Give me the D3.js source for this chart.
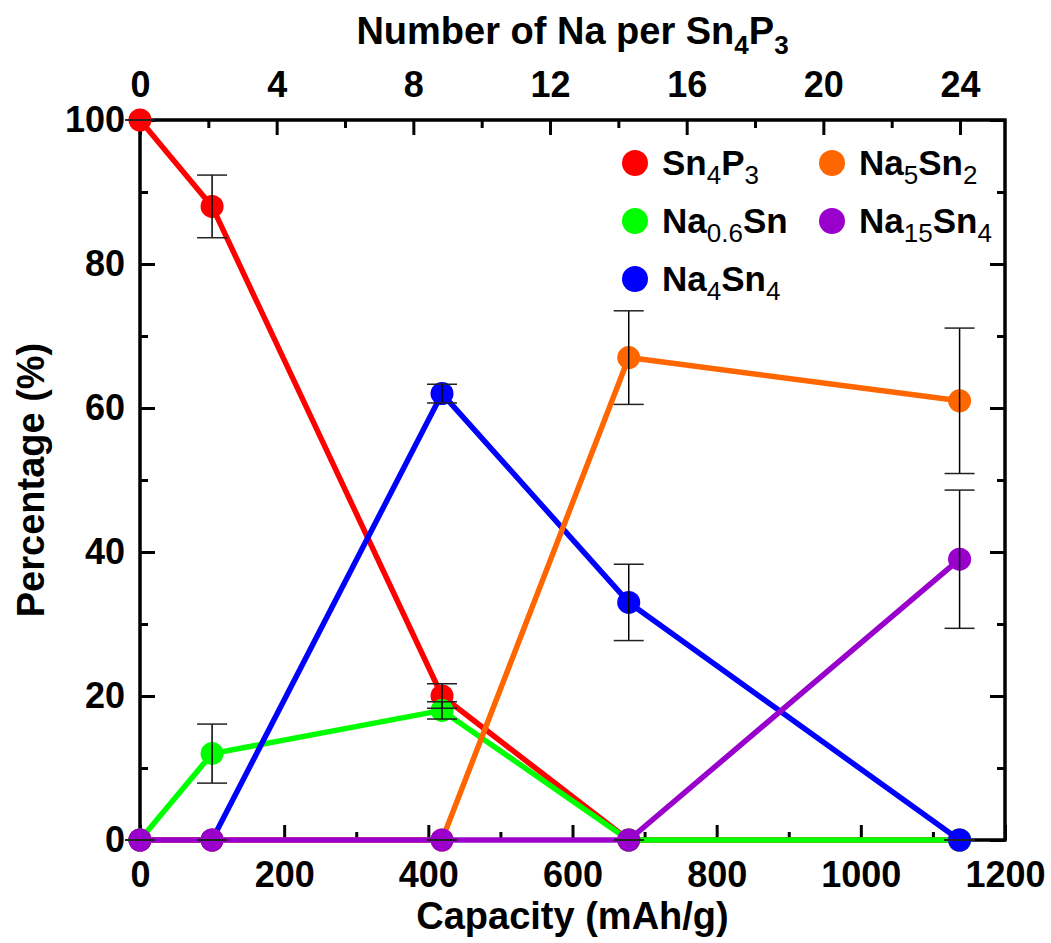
<!DOCTYPE html>
<html>
<head>
<meta charset="utf-8">
<script src="https://cdn.jsdelivr.net/npm/d3@7"></script>
<style>
  html, body { margin: 0; padding: 0; background: #fff; }
  svg { display: block; }
  text { font-family: "Liberation Sans", Arial, sans-serif; }
</style>
</head>
<body>
<svg id="chart" width="1051" height="943"></svg>
<script>
// Capacity (mAh/g) at each sampled point
const capacity = [0, 100, 419, 678, 1137];

// Phase fractions (%) and their uncertainties
const sn4p3      = [100, 88, 20, 0, 0];
const sn4p3Err   = [0, 4.35, 1.7, 0, 0];
const na06sn     = [0, 12, 18, 0, 0];
const na06snErr  = [0, 4.1, 1.2, 0, 0];
const na4sn4     = [0, 0, 62, 33, 0];
const na4sn4Err  = [0, 0, 1.3, 5.3, 0];
const na5sn2     = [0, 0, 0, 67, 61];
const na5sn2Err  = [0, 0, 0, 6.5, 10.1];
const na15sn4    = [0, 0, 0, 0, 39];
const na15sn4Err = [0, 0, 0, 0, 9.6];

// Series names as [text, isSubscript] runs
const seriesNames = [
  [["Sn", 0], ["4", 1], ["P", 0], ["3", 1]],
  [["Na", 0], ["0.6", 1], ["Sn", 0]],
  [["Na", 0], ["4", 1], ["Sn", 0], ["4", 1]],
  [["Na", 0], ["5", 1], ["Sn", 0], ["2", 1]],
  [["Na", 0], ["15", 1], ["Sn", 0], ["4", 1]]
];
const seriesColors = ["#ff0000", "#00ff00", "#0000ff", "#ff6600", "#9900cc"];

// Axis ticks
const capMajor = [0, 200, 400, 600, 800, 1000, 1200];
const capMinor = [100, 300, 500, 700, 900, 1100];
const pctMajor = [0, 20, 40, 60, 80, 100];
const pctMinor = [10, 30, 50, 70, 90];
const naMajor = [0, 4, 8, 12, 16, 20, 24];
const naMinor = [2, 6, 10, 14, 18, 22];
const mAhPerNa = 47.4; // capacity of one Na per Sn4P3 formula unit

const series = [
  { vals: sn4p3, err: sn4p3Err },
  { vals: na06sn, err: na06snErr },
  { vals: na4sn4, err: na4sn4Err },
  { vals: na5sn2, err: na5sn2Err },
  { vals: na15sn4, err: na15sn4Err }
].map((s, i) => ({ ...s, name: seriesNames[i], color: seriesColors[i] }));

const svg = d3.select("#chart");
const L = 140, R = 1005, T = 120, B = 840;

const x = d3.scaleLinear().domain([0, 1200]).range([L, R]);
const xTop = d3.scaleLinear().domain([0, 1200 / mAhPerNa]).range([L, R]);
const y = d3.scaleLinear().domain([0, 100]).range([B, T]);

const tickFont = 36;

function styleAxis(g) {
  g.select(".domain").remove();
  g.selectAll(".tick line").attr("stroke", "#000").attr("stroke-width", 3);
  g.selectAll(".tick text")
    .attr("fill", "#000")
    .attr("font-size", tickFont)
    .attr("font-weight", "bold")
    .attr("font-family", "'Liberation Sans', Arial, sans-serif");
}

// Bottom axis
svg.append("g").attr("transform", `translate(0,${B})`)
  .call(d3.axisBottom(x).tickValues(capMinor).tickSize(-8).tickFormat(""))
  .call(styleAxis);
svg.append("g").attr("transform", `translate(0,${B})`)
  .call(d3.axisBottom(x).tickValues(capMajor).tickSize(-15).tickPadding(21).tickFormat(d3.format("d")))
  .call(styleAxis);

// Top axis
svg.append("g").attr("transform", `translate(0,${T})`)
  .call(d3.axisTop(xTop).tickValues(naMinor).tickSize(-8).tickFormat(""))
  .call(styleAxis);
svg.append("g").attr("transform", `translate(0,${T})`)
  .call(d3.axisTop(xTop).tickValues(naMajor).tickSize(-15).tickPadding(23).tickFormat(d3.format("d")))
  .call(styleAxis);

// Left axis
svg.append("g").attr("transform", `translate(${L},0)`)
  .call(d3.axisLeft(y).tickValues(pctMinor).tickSize(-8).tickFormat(""))
  .call(styleAxis);
svg.append("g").attr("transform", `translate(${L},0)`)
  .call(d3.axisLeft(y).tickValues(pctMajor).tickSize(-15).tickPadding(15).tickFormat(d3.format("d")))
  .call(styleAxis);

// Right axis
svg.append("g").attr("transform", `translate(${R},0)`)
  .call(d3.axisRight(y).tickValues(pctMinor).tickSize(-8).tickFormat(""))
  .call(styleAxis);
svg.append("g").attr("transform", `translate(${R},0)`)
  .call(d3.axisRight(y).tickValues(pctMajor).tickSize(-15).tickFormat(""))
  .call(styleAxis);

// Frame
svg.append("rect")
  .attr("x", L).attr("y", T).attr("width", R - L).attr("height", B - T)
  .attr("fill", "none").attr("stroke", "#000").attr("stroke-width", 3.5);

// Series lines and markers
const line = d3.line().x((d, i) => x(capacity[i])).y(d => y(d));
series.forEach(s => {
  const g = svg.append("g");
  g.append("path").datum(s.vals)
    .attr("d", line).attr("fill", "none")
    .attr("stroke", s.color).attr("stroke-width", 5.5)
    .attr("stroke-linejoin", "round");
  g.selectAll("circle").data(s.vals).join("circle")
    .attr("cx", (d, i) => x(capacity[i])).attr("cy", d => y(d))
    .attr("r", 11.5).attr("fill", s.color);
});

// Error bars
const capW = 15;
series.forEach(s => {
  const g = svg.append("g");
  s.vals.forEach((v, i) => {
    const cx = x(capacity[i]);
    const e = s.err[i];
    g.append("line").attr("x1", cx).attr("x2", cx)
      .attr("y1", y(v + e)).attr("y2", y(v - e))
      .attr("stroke", "#000").attr("stroke-width", 1.5);
    [v + e, v - e].forEach(vv => {
      g.append("line").attr("x1", cx - capW).attr("x2", cx + capW)
        .attr("y1", y(vv)).attr("y2", y(vv))
        .attr("stroke", "#222").attr("stroke-width", 1.5);
    });
  });
});

// Legend
function richText(sel, runs, size, subSize, subBold) {
  runs.forEach(([t, sub], k) => {
    const prevSub = k > 0 && runs[k - 1][1];
    const ts = sel.append("tspan").text(t);
    if (sub) {
      ts.attr("font-size", subSize).attr("dy", prevSub ? 0 : size * 0.25)
        .attr("font-weight", subBold ? "bold" : "normal");
    } else {
      ts.attr("font-size", size).attr("font-weight", "bold")
        .attr("dy", prevSub ? -size * 0.25 : 0);
    }
  });
}

const legendPos = [
  { cx: 635, cy: 163 }, { cx: 635, cy: 221 }, { cx: 635, cy: 279 },
  { cx: 832, cy: 163 }, { cx: 832, cy: 221 }
];
const legendOrder = [0, 1, 2, 3, 4];
legendOrder.forEach((si, k) => {
  const p = legendPos[k];
  const s = series[si];
  svg.append("circle").attr("cx", p.cx).attr("cy", p.cy).attr("r", 13).attr("fill", s.color);
  const t = svg.append("text").attr("x", p.cx + 27).attr("y", p.cy + 12).attr("fill", "#000");
  richText(t, s.name, 35, 26, false);
});

// Axis titles
const titleSize = 38;
svg.append("text")
  .attr("x", (L + R) / 2).attr("y", 929).attr("text-anchor", "middle")
  .attr("font-size", titleSize).attr("font-weight", "bold").text("Capacity (mAh/g)");

const tt = svg.append("text")
  .attr("x", (L + R) / 2).attr("y", 44).attr("text-anchor", "middle").attr("fill", "#000");
richText(tt, [["Number of Na per Sn", 0], ["4", 1], ["P", 0], ["3", 1]], titleSize, 26, true);

svg.append("text")
  .attr("transform", `translate(44,${(T + B) / 2}) rotate(-90)`)
  .attr("text-anchor", "middle")
  .attr("font-size", titleSize).attr("font-weight", "bold").text("Percentage (%)");
</script>
</body>
</html>
